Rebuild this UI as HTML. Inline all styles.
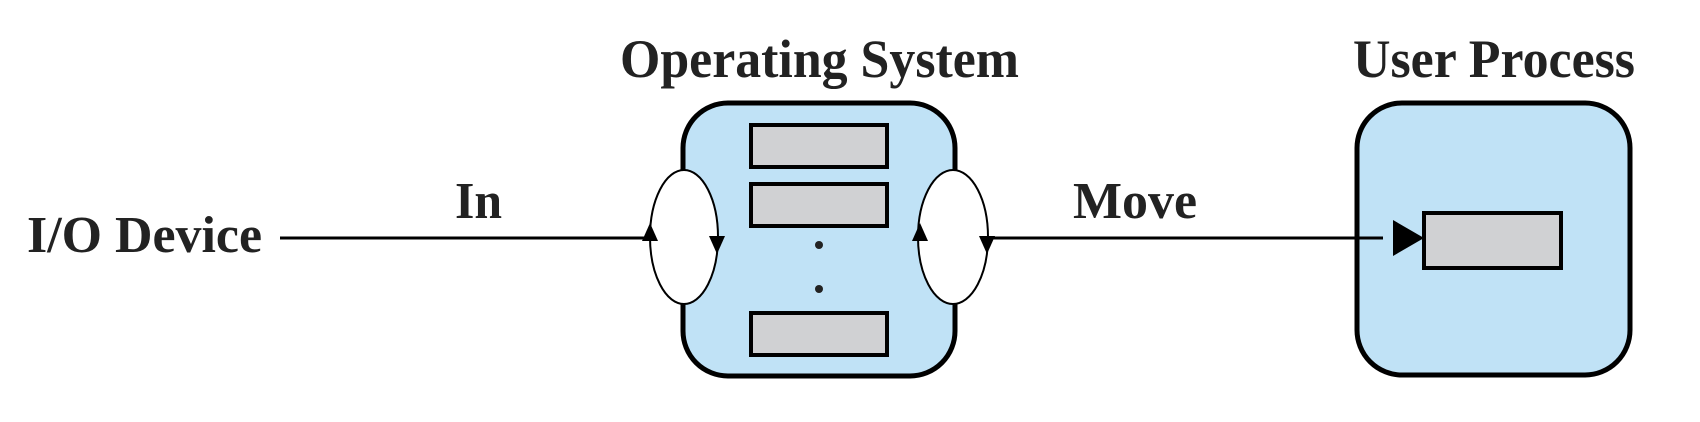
<!DOCTYPE html>
<html><head><meta charset="utf-8"><style>html,body{margin:0;padding:0;background:#fff}svg{display:block}</style></head>
<body>
<svg width="1700" height="422" viewBox="0 0 1700 422" xmlns="http://www.w3.org/2000/svg">
<g font-family="Liberation Serif, serif" font-weight="bold" fill="#222">
<text x="620" y="77" font-size="54" textLength="399" lengthAdjust="spacingAndGlyphs">Operating System</text>
<text x="1353" y="77" font-size="54" textLength="282" lengthAdjust="spacingAndGlyphs">User Process</text>
<text x="27" y="252" font-size="52" textLength="235" lengthAdjust="spacingAndGlyphs">I/O Device</text>
<text x="455" y="218" font-size="52" textLength="47" lengthAdjust="spacingAndGlyphs">In</text>
<text x="1073" y="218" font-size="52" textLength="124" lengthAdjust="spacingAndGlyphs">Move</text>
</g>
<rect x="683" y="103" width="272" height="273" rx="45" fill="#c0e2f6" stroke="#000" stroke-width="5"/>
<ellipse cx="684" cy="237" rx="34" ry="67" fill="#fff" stroke="#000" stroke-width="2"/>
<ellipse cx="953" cy="237" rx="35" ry="67" fill="#fff" stroke="#000" stroke-width="2"/>
<g fill="#d0d1d3" stroke="#000" stroke-width="4">
<rect x="751" y="125" width="136" height="42"/>
<rect x="751" y="184" width="136" height="42"/>
<rect x="751" y="313" width="136" height="42"/>
</g>
<circle cx="819" cy="245" r="4" fill="#222"/>
<circle cx="819" cy="289" r="4" fill="#222"/>
<rect x="1357" y="103" width="273" height="272" rx="45" fill="#c0e2f6" stroke="#000" stroke-width="5"/>
<line x1="280" y1="238" x2="650" y2="238" stroke="#000" stroke-width="3"/>
<line x1="987" y1="238" x2="1383" y2="238" stroke="#000" stroke-width="3"/>
<polygon points="650,223 642,241 658,241" fill="#000"/>
<polygon points="717,254 709,236 725,236" fill="#000"/>
<polygon points="920,223 912,241 928,241" fill="#000"/>
<polygon points="987,254 979,236 995,236" fill="#000"/>
<rect x="1424" y="213" width="137" height="55" fill="#d0d1d3" stroke="#000" stroke-width="4"/>
<polygon points="1393,220 1393,256 1424,238" fill="#000"/>
</svg>
</body></html>
